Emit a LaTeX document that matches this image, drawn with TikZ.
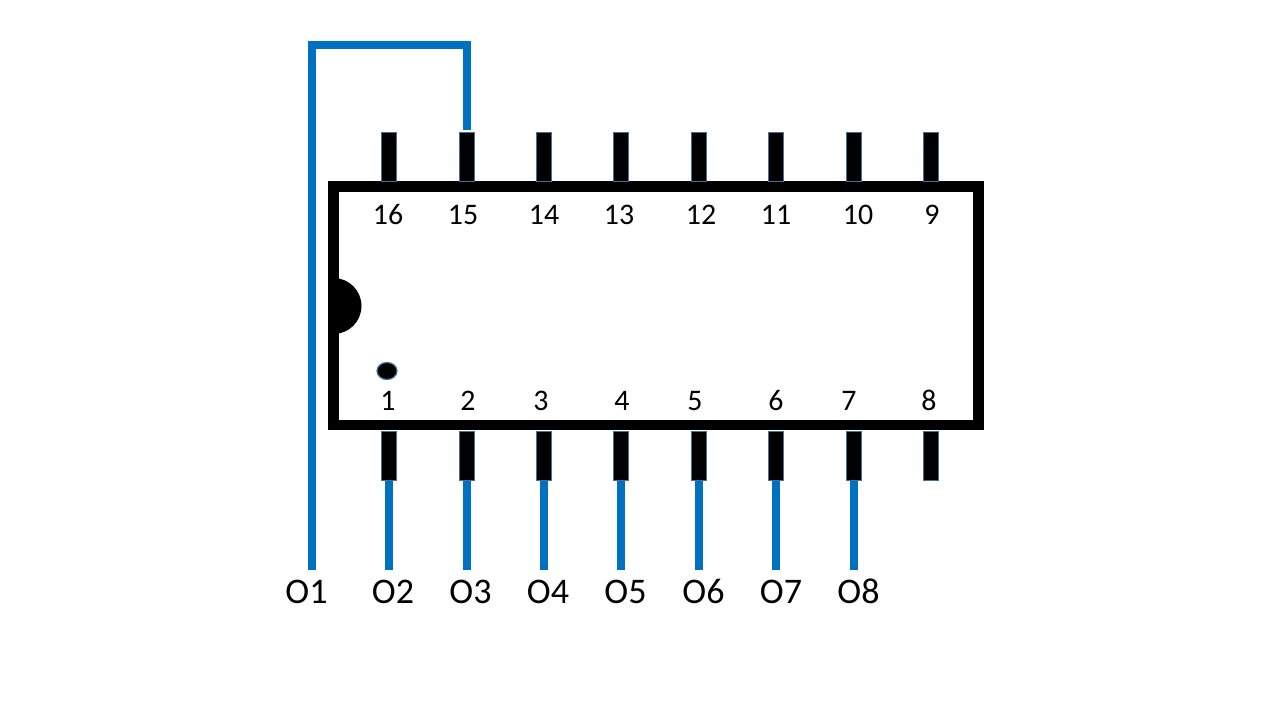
\documentclass[tikz,border=0pt]{standalone}
\usepackage{fontspec}
\setmainfont{Carlito}
\usetikzlibrary{shapes.geometric, positioning, calc}
\definecolor{WireBlue}{RGB}{0,112,192}
\definecolor{PinEdge}{RGB}{65,113,156}

\begin{document}
\begin{tikzpicture}[
          chip/.style={rectangle, draw=black, line width=0.21cm, fill=white,
                       minimum width=12.9cm, minimum height=4.77cm},
          pin/.style={rectangle, fill=black, draw=PinEdge, line width=0.7pt,
                      inner sep=0pt, minimum width=0.31cm, minimum height=0.98cm},
          num/.style={font=\fontsize{17}{20}\selectfont, inner sep=0pt,
                      text height=0.39cm, text depth=0pt},
          outlbl/.style={font=\fontsize{20.5}{24}\selectfont, inner sep=0pt,
                         text height=0.47cm, text depth=0pt},
          wire/.style={WireBlue, line width=0.16cm}
        ]
        \useasboundingbox (0,0) rectangle (25.6,14.4);

        % Package
        \node[chip] (ic) at (13.12, 8.285) {};
        \fill[black] (6.67, 8.84) arc (90:-90:0.56);
        \node[ellipse, fill=black, draw=PinEdge, line width=0.7pt, inner sep=0pt,
              minimum width=0.4cm, minimum height=0.34cm] (dot) at (7.74, 6.98) {};

        % Top pins
        \node[pin] (p16) at ( 7.78, 11.26) {};
        \node[pin] (p15) at ( 9.34, 11.26) {};
        \node[pin] (p14) at (10.88, 11.26) {};
        \node[pin] (p13) at (12.42, 11.26) {};
        \node[pin] (p12) at (13.98, 11.26) {};
        \node[pin] (p11) at (15.52, 11.26) {};
        \node[pin] (p10) at (17.08, 11.26) {};
        \node[pin] (p9)  at (18.62, 11.26) {};

        % Bottom pins
        \node[pin] (p1) at ( 7.78, 5.28) {};
        \node[pin] (p2) at ( 9.34, 5.28) {};
        \node[pin] (p3) at (10.88, 5.28) {};
        \node[pin] (p4) at (12.42, 5.28) {};
        \node[pin] (p5) at (13.98, 5.28) {};
        \node[pin] (p6) at (15.52, 5.28) {};
        \node[pin] (p7) at (17.08, 5.28) {};
        \node[pin] (p8) at (18.62, 5.28) {};

        % Pin numbers
        \node[num] (n16) at ( 7.76, 10.10) {16};
        \node[num] (n15) at ( 9.26, 10.10) {15};
        \node[num] (n14) at (10.88, 10.10) {14};
        \node[num] (n13) at (12.38, 10.10) {13};
        \node[num] (n12) at (14.02, 10.10) {12};
        \node[num] (n11) at (15.52, 10.10) {11};
        \node[num] (n10) at (17.16, 10.10) {10};
        \node[num] (n9)  at (18.64, 10.10) {9};
        \node[num] (n1) at ( 7.76, 6.38) {1};
        \node[num] (n2) at ( 9.36, 6.38) {2};
        \node[num] (n3) at (10.82, 6.38) {3};
        \node[num] (n4) at (12.44, 6.38) {4};
        \node[num] (n5) at (13.90, 6.38) {5};
        \node[num] (n6) at (15.52, 6.38) {6};
        \node[num] (n7) at (16.98, 6.38) {7};
        \node[num] (n8) at (18.58, 6.38) {8};

        % Output labels
        \node[outlbl] (o1) at ( 6.13, 2.56) {O1};
        \node[outlbl] (o2) at ( 7.86, 2.56) {O2};
        \node[outlbl] (o3) at ( 9.41, 2.56) {O3};
        \node[outlbl] (o4) at (10.96, 2.56) {O4};
        \node[outlbl] (o5) at (12.51, 2.56) {O5};
        \node[outlbl] (o6) at (14.07, 2.56) {O6};
        \node[outlbl] (o7) at (15.62, 2.56) {O7};
        \node[outlbl] (o8) at (17.17, 2.56) {O8};

        % Wire ends
        \coordinate (w1) at (6.24, 3.0);
        \coordinate (w2) at (7.78, 3.0);
        \coordinate (w3) at (9.34, 3.0);
        \coordinate (w4) at (10.88, 3.0);
        \coordinate (w5) at (12.42, 3.0);
        \coordinate (w6) at (13.98, 3.0);
        \coordinate (w7) at (15.52, 3.0);
        \coordinate (w8) at (17.08, 3.0);

        % Wires
        \draw[wire, shorten >=0.04cm]
          (w1) |- (9.34, 13.5) -- (p15.north);
        \draw[wire] (p1.south) -- (w2);
        \draw[wire] (p2.south) -- (w3);
        \draw[wire] (p3.south) -- (w4);
        \draw[wire] (p4.south) -- (w5);
        \draw[wire] (p5.south) -- (w6);
        \draw[wire] (p6.south) -- (w7);
        \draw[wire] (p7.south) -- (w8);
      \end{tikzpicture}
\end{document}
